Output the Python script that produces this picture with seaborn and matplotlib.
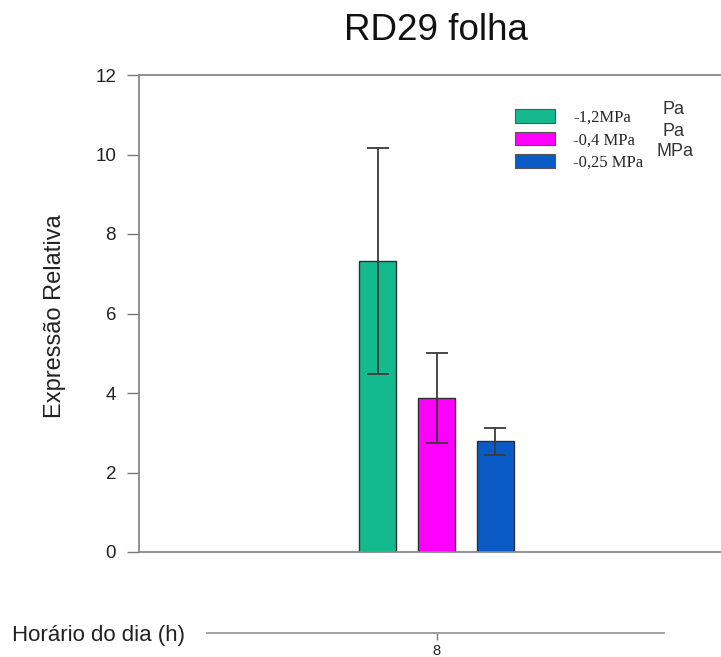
import matplotlib
matplotlib.use("Agg")
import matplotlib.pyplot as plt
import seaborn as sns
import pandas as pd
import numpy as np
from matplotlib.patches import Patch

hours = ["8"]
treatments = ["-1,2MPa", "-0,4 MPa", "-0,25 MPa"]
values = [7.33, 3.88, 2.78]
errors = [2.84, 1.13, 0.33]
colors = ["#13BA8E", "#FF00FF", "#0A5BC6"]
yticks = [0, 2, 4, 6, 8, 10, 12]
ghost_labels = ["Pa", "Pa", "MPa"]

sns.set_theme(style="white")
plt.rcParams['font.family'] = ['Liberation Sans', 'DejaVu Sans']

df = pd.DataFrame({"hora": hours * len(treatments), "trat": treatments, "val": values})

fig = plt.figure(figsize=(7.21, 6.57), dpi=100)
W, H = 721, 657
ax = fig.add_axes([139 / W, 1 - 552 / H, (721 - 139) / W, (552 - 75) / H])

sns.barplot(data=df, x="hora", y="val", hue="trat", hue_order=treatments,
            palette=colors, saturation=1, errorbar=None, gap=0.37, width=0.8,
            edgecolor="#2f2f2f", linewidth=1.0, ax=ax, legend=False)

bars = [p for p in ax.patches][:len(values)]
xs = [p.get_x() + p.get_width() / 2 for p in bars]
ax.errorbar(xs, values, yerr=errors, fmt="none", ecolor="#3a3a3a",
            elinewidth=1.3, capsize=8, capthick=1.3)

ax.set_xlim(-1.346, 1.287)
ax.set_ylim(0, 12)
ax.set_yticks(yticks)
ax.set_yticklabels([str(t) for t in yticks], fontsize=13.5, color="#222222")
ax.set_xticks([])
ax.set_xlabel("")
ax.set_ylabel("Expressão Relativa", fontsize=17, color="#222222")
ax.yaxis.set_label_coords((66 - 139) / 582, 0.495)
ax.tick_params(axis="y", direction="out", length=8.5, width=1, color="#777777", left=True, pad=8)
for s in ["left", "top", "bottom"]:
    ax.spines[s].set_color("#888888")
    ax.spines[s].set_linewidth(1.3)
ax.spines["right"].set_visible(False)

fig.text(436 / W, 1 - 30 / H, "RD29 folha", fontsize=26.5, ha="center", va="center", color="#111111")

handles = [Patch(facecolor=c, edgecolor="#555555", linewidth=0.8) for c in colors]
leg = ax.legend(handles, treatments, loc="upper left", bbox_to_anchor=(500 / W, 1 - 94 / H),
                bbox_transform=fig.transFigure, frameon=False,
                prop={"family": "Liberation Serif", "size": 12},
                handlelength=2.4, handleheight=0.9, handletextpad=1.08, labelspacing=0.35)

for txt, yy, xx in zip(ghost_labels, [109, 131, 152], [662, 662, 656]):
    fig.text(xx / W, 1 - yy / H, txt, fontsize=13, ha="left", va="center", color="#333333")

# lower axis with hour label
ax2 = fig.add_axes([139 / W, 1 - 633 / H, (721 - 139) / W, 0.001])
ax2.set_xlim(ax.get_xlim())
ax2.set_ylim(0, 1)
for s in ["left", "top", "right"]:
    ax2.spines[s].set_visible(False)
ax2.spines["bottom"].set_bounds(-1.04, 1.03)
ax2.spines["bottom"].set_color("#999999")
ax2.spines["bottom"].set_linewidth(1.3)
ax2.set_yticks([])
ax2.set_xticks([0])
ax2.set_xticklabels(hours, fontsize=10.5, color="#222222")
ax2.tick_params(axis="x", direction="out", length=5, width=1, color="#777777", bottom=True, pad=3)
ax2.patch.set_visible(False)
fig.text(12 / W, 1 - 635 / H, "Horário do dia (h)", fontsize=16, ha="left", va="center", color="#222222")

fig.savefig("out.png", dpi=100, facecolor="white")
